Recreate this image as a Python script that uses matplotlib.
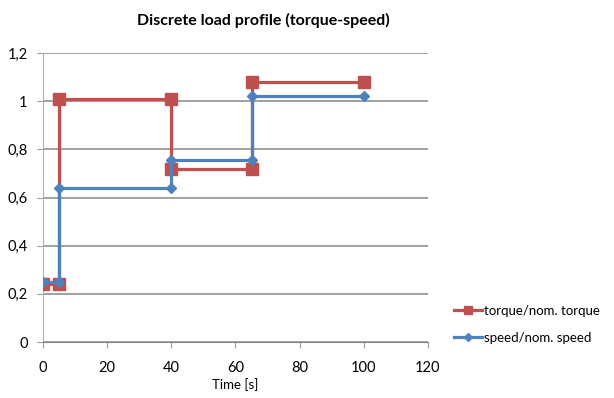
import matplotlib.pyplot as plt
from matplotlib.ticker import FuncFormatter

# load profile steps (time in s, normalised values)
time = [0, 5, 5, 40, 40, 65, 65, 100]
torque = [0.24, 0.24, 1.01, 1.01, 0.72, 0.72, 1.08, 1.08]
speed = [0.25, 0.25, 0.64, 0.64, 0.755, 0.755, 1.02, 1.02]
labels = ['torque/nom. torque', 'speed/nom. speed']

plt.rcParams['font.family'] = ['Lato', 'DejaVu Sans']

fig = plt.figure(figsize=(6.14, 3.98), dpi=100)
ax = fig.add_axes([0.070, 0.1407, 0.627, 0.7261])

ax.plot(time, torque, color='#c0504d', lw=2.3, marker='s', ms=8.5,
        label=labels[0], zorder=3)
ax.plot(time, speed, color='#4f81bd', lw=2.3, marker='D', ms=5.5,
        label=labels[1], zorder=4)

ax.set_xlim(0, 120)
ax.set_ylim(0, 1.2)
ax.set_xticks(range(0, 121, 20))
ax.set_yticks([0, 0.2, 0.4, 0.6, 0.8, 1.0, 1.2])
ax.yaxis.set_major_formatter(FuncFormatter(lambda v, p: f'{v:g}'.replace('.', ',')))
ax.grid(axis='y', color='#868686', lw=1.1)
ax.set_axisbelow(True)

for s in ['top', 'right']:
    ax.spines[s].set_visible(False)
ax.spines['bottom'].set_color('#868686')
ax.spines['left'].set_color('#b0b0b0')
ax.tick_params(colors='#a0a0a0', labelcolor='black', labelsize=10.5, length=4)
ax.tick_params(axis='x', pad=10)
ax.tick_params(axis='y', pad=7)

ax.set_xlabel('Time [s]', fontsize=9.5, labelpad=2)
fig.text(263 / 614, 1 - 20 / 398, 'Discrete load profile (torque-speed)',
         ha='center', va='center', fontsize=11.5, fontweight='bold')

fig.legend(loc='center left', bbox_to_anchor=(0.72, 0.185), frameon=False,
           fontsize=9.5, handlelength=2.1, handletextpad=0.15, labelspacing=1.1,
           markerscale=0.7)

fig.savefig('out.png', dpi=100)
